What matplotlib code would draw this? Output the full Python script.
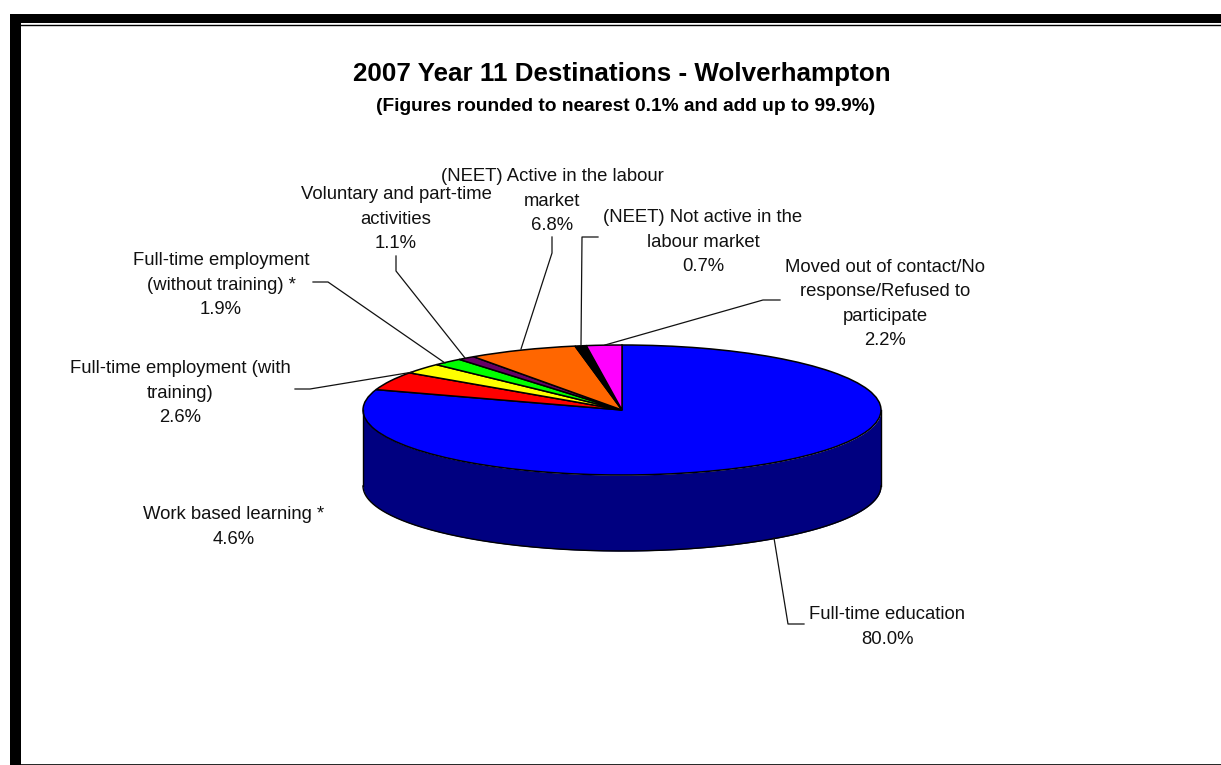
import numpy as np
import matplotlib
matplotlib.use("Agg")
import matplotlib.pyplot as plt

W, H = 1221, 765
categories = ["Full-time education", "Work based learning *", "Full-time employment (with\ntraining)",
              "Full-time employment\n(without training) *", "Voluntary and part-time\nactivities",
              "(NEET) Active in the labour\nmarket", "(NEET) Not active in the\nlabour market",
              "Moved out of contact/No\nresponse/Refused to\nparticipate"]
values = [80.0, 4.6, 2.6, 1.9, 1.1, 6.8, 0.7, 2.2]
colors = ["#0000FF", "#FF0000", "#FFFF00", "#00FF00", "#660066", "#FF6600", "#000000", "#FF00FF"]
label_pos = [(887, 627), (234, 527), (180, 393), (221, 285), (396, 219), (552, 201), (703, 242), (885, 304)]
leaders = [[(774, 538), (788, 624), (804, 624)],
           [],
           [(413, 372), (310, 389), (295, 389)],
           [(445, 363), (328, 282), (313, 282)],
           [(465, 358), (396, 271), (396, 256)],
           [(521, 349), (552, 253), (552, 237)],
           [(581, 345), (582, 237), (598, 237)],
           [(605, 345), (763, 300), (780, 300)]]

def px(x0, y0, x1, y1):
    return [x0 / W, 1 - y1 / H, (x1 - x0) / W, (y1 - y0) / H]

fig = plt.figure(figsize=(W / 100, H / 100), dpi=100, facecolor="white")
plt.rcParams["font.family"] = ["Liberation Sans", "DejaVu Sans"]

bg = fig.add_axes([0, 0, 1, 1])
bg.set_xlim(0, W)
bg.set_ylim(H, 0)
bg.axis("off")
# frame
bg.fill_between([10, W], 14, 23, color="black", lw=0)
bg.fill_between([10, 21], 14, H, color="black", lw=0)
bg.plot([21, W], [24.5, 24.5], color="black", lw=1)
bg.plot([21, W], [764.5, 764.5], color="black", lw=1.2)

# 3-D pie
ax = fig.add_axes(px(363, 345, 881, 475))
depth = 76 / 65
t = np.linspace(-1, 1, 721)
xs = np.sin(t * np.pi / 2)
front = -np.sqrt(np.clip(1 - xs ** 2, 0, None))
ax.fill_between(xs, front - depth, front, color="#000080", lw=0, clip_on=False)
ax.plot(xs, front - depth, color="black", lw=1, clip_on=False)
ax.plot([-1, -1], [0, -depth], color="black", lw=1, clip_on=False)
ax.plot([1, 1], [0, -depth], color="black", lw=1, clip_on=False)
wedges, _ = ax.pie(values, colors=colors, startangle=90, counterclock=False, normalize=True,
                   wedgeprops=dict(edgecolor="black", linewidth=1.1, clip_on=False))
ax.set_aspect("auto")
ax.set_xlim(-1, 1)
ax.set_ylim(-1, 1)
ax.patch.set_alpha(0)

for pts in leaders:
    if pts:
        bg.plot(*zip(*pts), color="#111111", lw=0.9, zorder=5)
bg.set_zorder(ax.get_zorder() + 1)
bg.patch.set_alpha(0)

for c, v, (x, y) in zip(categories, values, label_pos):
    bg.text(x, y, f"{c}\n{v:.1f}%", ha="center", va="center", fontsize=13.3, linespacing=1.55, color="#111111")

bg.text(622, 73.5, "2007 Year 11 Destinations - Wolverhampton", ha="center", va="center",
        fontsize=18.7, fontweight="bold")
bg.text(626, 106, "(Figures rounded to nearest 0.1% and add up to 99.9%)", ha="center", va="center",
        fontsize=13.8, fontweight="bold")

fig.savefig("out.png", dpi=100, facecolor="white")
